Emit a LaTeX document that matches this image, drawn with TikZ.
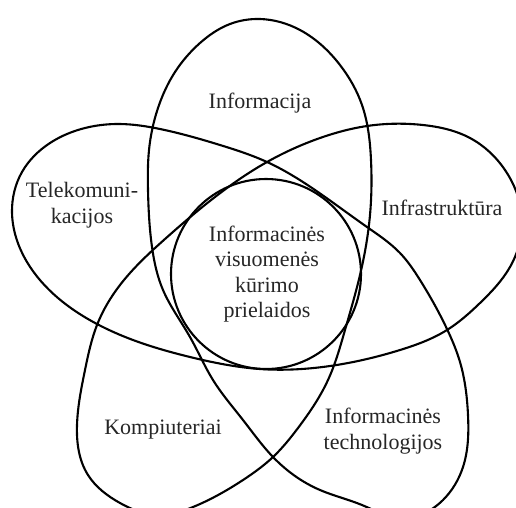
\documentclass[tikz,border=0pt]{standalone}
\usepackage{fontspec}
\setmainfont{Liberation Serif}
\usetikzlibrary{hobby}
\begin{document}
\begin{tikzpicture}[x=1pt,y=-1pt,
  curve/.style={line width=2.1pt, black},
  lbl/.style={align=center, font=\fontsize{22}{25.5}\selectfont, inner sep=0pt, text=black!85}]
\useasboundingbox (0,0) rectangle (516,507);
% one closed star-shaped curve with five loops
\draw[curve, use Hobby shortcut, closed=true]
 (260,19) .. (300,30) .. (340,65) .. (362,105) .. (371,160) .. (370,215) ..
 (360,275) .. (345,330) .. (328,380) .. (298,428) .. (273,457) .. (243,480) ..
 (193,507) .. (158,515) .. (120,503) .. (88,475) .. (77,425) .. (85,370) ..
 (97,325) .. (120,285) .. (165,239) .. (215,197) .. (267,162) .. (320,138) ..
 (367,126) .. (423,125) .. (470,138) .. (505,170) .. (522,220) .. (510,267) ..
 (480,303) .. (447,330) .. (400,350) .. (330,366) .. (260,369) .. (190,357) ..
 (133,340) .. (97,324) .. (58,298) .. (27,262) .. (12,212) .. (22,172) ..
 (50,143) .. (85,128) .. (120,124) .. (160,129) .. (220,145) .. (267,162) ..
 (315,190) .. (367,227) .. (400,253) .. (420,280) .. (447,329) .. (460,362) ..
 (468,415) .. (463,467) .. (443,500) .. (400,518) .. (362,505) .. (320,490) ..
 (273,457) .. (243,420) .. (213,380) .. (190,337) .. (163,290) .. (152,247) ..
 (148,190) .. (149,150) .. (158,108) .. (175,72) .. (200,43) .. (230,24);
% central circle
\node[curve, draw, circle, minimum size=190pt, inner sep=0pt] (core) at (266,274) {};
% labels
\node[lbl] (info) at (260,103) {Informacija};
\node[lbl] (tele) at (82,205) {Telekomuni-\\kacijos};
\node[lbl] (infra) at (442,208) {Infrastruktūra};
\node[lbl] (centre) at (267,274) {Informacinės\\visuomenės\\kūrimo\\prielaidos};
\node[lbl] (komp) at (163,430) {Kompiuteriai};
\node[lbl] (it) at (383,431) {Informacinės\\technologijos};
\end{tikzpicture}
\end{document}
